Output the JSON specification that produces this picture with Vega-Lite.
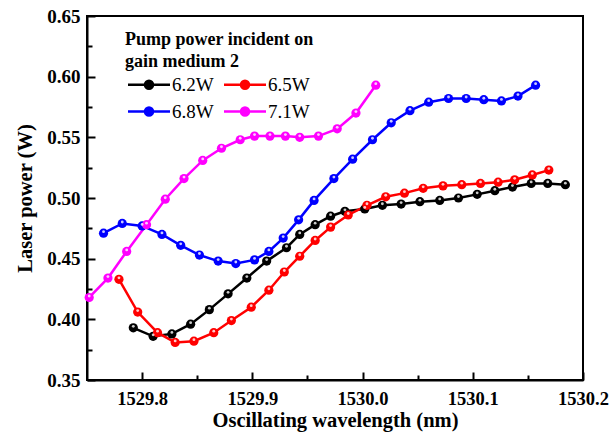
{
  "$schema": "https://vega.github.io/schema/vega-lite/v6.json",
  "width": 496,
  "height": 364,
  "autosize": {"type": "none"},
  "padding": {"left": 87, "top": 16, "right": 27, "bottom": 63},
  "background": "white",
  "config": {
    "view": {"stroke": "black", "strokeWidth": 2},
    "font": "Liberation Serif"
  },
  "data": {
    "values": [
      {"series": "6.2W", "x": 1529.792, "y": 0.393},
      {"series": "6.2W", "x": 1529.810, "y": 0.386},
      {"series": "6.2W", "x": 1529.827, "y": 0.388},
      {"series": "6.2W", "x": 1529.844, "y": 0.396},
      {"series": "6.2W", "x": 1529.861, "y": 0.408},
      {"series": "6.2W", "x": 1529.878, "y": 0.421},
      {"series": "6.2W", "x": 1529.895, "y": 0.434},
      {"series": "6.2W", "x": 1529.913, "y": 0.448},
      {"series": "6.2W", "x": 1529.931, "y": 0.459},
      {"series": "6.2W", "x": 1529.943, "y": 0.470},
      {"series": "6.2W", "x": 1529.957, "y": 0.478},
      {"series": "6.2W", "x": 1529.971, "y": 0.485},
      {"series": "6.2W", "x": 1529.984, "y": 0.489},
      {"series": "6.2W", "x": 1530.002, "y": 0.491},
      {"series": "6.2W", "x": 1530.018, "y": 0.494},
      {"series": "6.2W", "x": 1530.035, "y": 0.495},
      {"series": "6.2W", "x": 1530.052, "y": 0.497},
      {"series": "6.2W", "x": 1530.070, "y": 0.498},
      {"series": "6.2W", "x": 1530.087, "y": 0.500},
      {"series": "6.2W", "x": 1530.104, "y": 0.503},
      {"series": "6.2W", "x": 1530.120, "y": 0.506},
      {"series": "6.2W", "x": 1530.136, "y": 0.509},
      {"series": "6.2W", "x": 1530.153, "y": 0.512},
      {"series": "6.2W", "x": 1530.168, "y": 0.512},
      {"series": "6.2W", "x": 1530.184, "y": 0.511},
      {"series": "6.5W", "x": 1529.779, "y": 0.433},
      {"series": "6.5W", "x": 1529.796, "y": 0.406},
      {"series": "6.5W", "x": 1529.814, "y": 0.389},
      {"series": "6.5W", "x": 1529.830, "y": 0.381},
      {"series": "6.5W", "x": 1529.847, "y": 0.382},
      {"series": "6.5W", "x": 1529.865, "y": 0.389},
      {"series": "6.5W", "x": 1529.881, "y": 0.399},
      {"series": "6.5W", "x": 1529.899, "y": 0.410},
      {"series": "6.5W", "x": 1529.915, "y": 0.424},
      {"series": "6.5W", "x": 1529.929, "y": 0.439},
      {"series": "6.5W", "x": 1529.943, "y": 0.452},
      {"series": "6.5W", "x": 1529.957, "y": 0.465},
      {"series": "6.5W", "x": 1529.971, "y": 0.476},
      {"series": "6.5W", "x": 1529.987, "y": 0.486},
      {"series": "6.5W", "x": 1530.004, "y": 0.494},
      {"series": "6.5W", "x": 1530.021, "y": 0.501},
      {"series": "6.5W", "x": 1530.038, "y": 0.504},
      {"series": "6.5W", "x": 1530.055, "y": 0.508},
      {"series": "6.5W", "x": 1530.073, "y": 0.510},
      {"series": "6.5W", "x": 1530.090, "y": 0.511},
      {"series": "6.5W", "x": 1530.107, "y": 0.512},
      {"series": "6.5W", "x": 1530.123, "y": 0.513},
      {"series": "6.5W", "x": 1530.138, "y": 0.515},
      {"series": "6.5W", "x": 1530.154, "y": 0.519},
      {"series": "6.5W", "x": 1530.169, "y": 0.523},
      {"series": "6.8W", "x": 1529.765, "y": 0.471},
      {"series": "6.8W", "x": 1529.782, "y": 0.479},
      {"series": "6.8W", "x": 1529.800, "y": 0.477},
      {"series": "6.8W", "x": 1529.818, "y": 0.470},
      {"series": "6.8W", "x": 1529.835, "y": 0.461},
      {"series": "6.8W", "x": 1529.852, "y": 0.453},
      {"series": "6.8W", "x": 1529.869, "y": 0.448},
      {"series": "6.8W", "x": 1529.885, "y": 0.446},
      {"series": "6.8W", "x": 1529.902, "y": 0.449},
      {"series": "6.8W", "x": 1529.915, "y": 0.456},
      {"series": "6.8W", "x": 1529.928, "y": 0.467},
      {"series": "6.8W", "x": 1529.942, "y": 0.482},
      {"series": "6.8W", "x": 1529.956, "y": 0.498},
      {"series": "6.8W", "x": 1529.974, "y": 0.516},
      {"series": "6.8W", "x": 1529.991, "y": 0.532},
      {"series": "6.8W", "x": 1530.009, "y": 0.548},
      {"series": "6.8W", "x": 1530.026, "y": 0.562},
      {"series": "6.8W", "x": 1530.043, "y": 0.572},
      {"series": "6.8W", "x": 1530.060, "y": 0.579},
      {"series": "6.8W", "x": 1530.078, "y": 0.582},
      {"series": "6.8W", "x": 1530.094, "y": 0.582},
      {"series": "6.8W", "x": 1530.110, "y": 0.581},
      {"series": "6.8W", "x": 1530.126, "y": 0.580},
      {"series": "6.8W", "x": 1530.141, "y": 0.584},
      {"series": "6.8W", "x": 1530.157, "y": 0.593},
      {"series": "7.1W", "x": 1529.752, "y": 0.418},
      {"series": "7.1W", "x": 1529.769, "y": 0.434},
      {"series": "7.1W", "x": 1529.786, "y": 0.456},
      {"series": "7.1W", "x": 1529.804, "y": 0.478},
      {"series": "7.1W", "x": 1529.821, "y": 0.499},
      {"series": "7.1W", "x": 1529.838, "y": 0.516},
      {"series": "7.1W", "x": 1529.855, "y": 0.531},
      {"series": "7.1W", "x": 1529.872, "y": 0.541},
      {"series": "7.1W", "x": 1529.889, "y": 0.548},
      {"series": "7.1W", "x": 1529.902, "y": 0.551},
      {"series": "7.1W", "x": 1529.916, "y": 0.551},
      {"series": "7.1W", "x": 1529.930, "y": 0.551},
      {"series": "7.1W", "x": 1529.943, "y": 0.550},
      {"series": "7.1W", "x": 1529.960, "y": 0.551},
      {"series": "7.1W", "x": 1529.977, "y": 0.557},
      {"series": "7.1W", "x": 1529.994, "y": 0.570},
      {"series": "7.1W", "x": 1530.012, "y": 0.593}
    ]
  },
  "encoding": {
    "x": {
      "field": "x",
      "type": "quantitative",
      "scale": {"domain": [1529.75, 1530.2], "nice": false, "zero": false},
      "axis": {
        "values": [1529.8, 1529.85, 1529.9, 1529.95, 1530.0, 1530.05, 1530.1, 1530.15, 1530.2],
        "labelExpr": "round(datum.value*100)%10==0 ? format(datum.value,'.1f') : ''",
        "grid": false,
        "domainColor": "black",
        "domainWidth": 2,
        "tickColor": "black",
        "tickWidth": 2,
        "tickSize": {"condition": {"test": "round(datum.value*100)%10==0", "value": -8}, "value": -5},
        "labelFont": "Liberation Serif",
        "labelFontWeight": "bold",
        "labelFontSize": 18.5,
        "labelColor": "black",
        "labelFlush": false,
        "labelOverlap": false,
        "labelPadding": 17,
        "title": "Oscillating wavelength (nm)",
        "titleFont": "Liberation Serif",
        "titleFontSize": 20.5,
        "titleFontWeight": "bold",
        "titleColor": "black",
        "titlePadding": 0
      }
    },
    "y": {
      "field": "y",
      "type": "quantitative",
      "scale": {"domain": [0.35, 0.65], "nice": false, "zero": false},
      "axis": {
        "values": [0.35, 0.375, 0.4, 0.425, 0.45, 0.475, 0.5, 0.525, 0.55, 0.575, 0.6, 0.625, 0.65],
        "labelExpr": "round(datum.value*1000)%50==0 ? format(datum.value,'.2f') : ''",
        "grid": false,
        "domainColor": "black",
        "domainWidth": 2,
        "tickColor": "black",
        "tickWidth": 2,
        "tickSize": {"condition": {"test": "round(datum.value*1000)%50==0", "value": -8}, "value": -5},
        "labelFont": "Liberation Serif",
        "labelFontWeight": "bold",
        "labelFontSize": 19,
        "labelColor": "black",
        "labelFlush": false,
        "labelOverlap": false,
        "labelPadding": 15,
        "title": "Laser power (W)",
        "titleFont": "Liberation Serif",
        "titleFontSize": 20.5,
        "titleFontWeight": "bold",
        "titleColor": "black",
        "titlePadding": 11
      }
    },
    "color": {
      "field": "series",
      "type": "nominal",
      "scale": {"domain": ["6.2W", "6.5W", "6.8W", "7.1W"], "range": ["#000000", "#ff0000", "#0000ff", "#ff00ff"]},
      "legend": {
        "orient": "none",
        "legendX": 38,
        "legendY": 15,
        "direction": "horizontal",
        "columns": 2,
        "padding": 0,
        "title": ["Pump power incident on", "gain medium 2"],
        "titleFont": "Liberation Serif",
        "titleFontSize": 18,
        "titleFontWeight": "bold",
        "titleColor": "black",
        "titleLineHeight": 22,
        "titleLimit": 400,
        "titlePadding": 4,
        "labelFont": "Liberation Serif",
        "labelFontSize": 19,
        "labelColor": "black",
        "labelOffset": 28,
        "symbolType": "M-1.3,0L7.1,0M3.7,0A0.8,0.8,0,1,1,2.1,0A0.8,0.8,0,1,1,3.7,0Z",
        "symbolSize": 100,
        "symbolStrokeWidth": 2.5,
        "columnPadding": 5,
        "rowPadding": 7
      }
    }
  },
  "layer": [
    {"mark": {"type": "line", "strokeWidth": 2.5}},
    {"mark": {"type": "point", "filled": true, "size": 85, "opacity": 1}},
    {
      "mark": {"type": "point", "filled": true, "size": 8, "opacity": 0.8, "yOffset": -1.5},
      "encoding": {"color": {"value": "white"}}
    }
  ]
}
